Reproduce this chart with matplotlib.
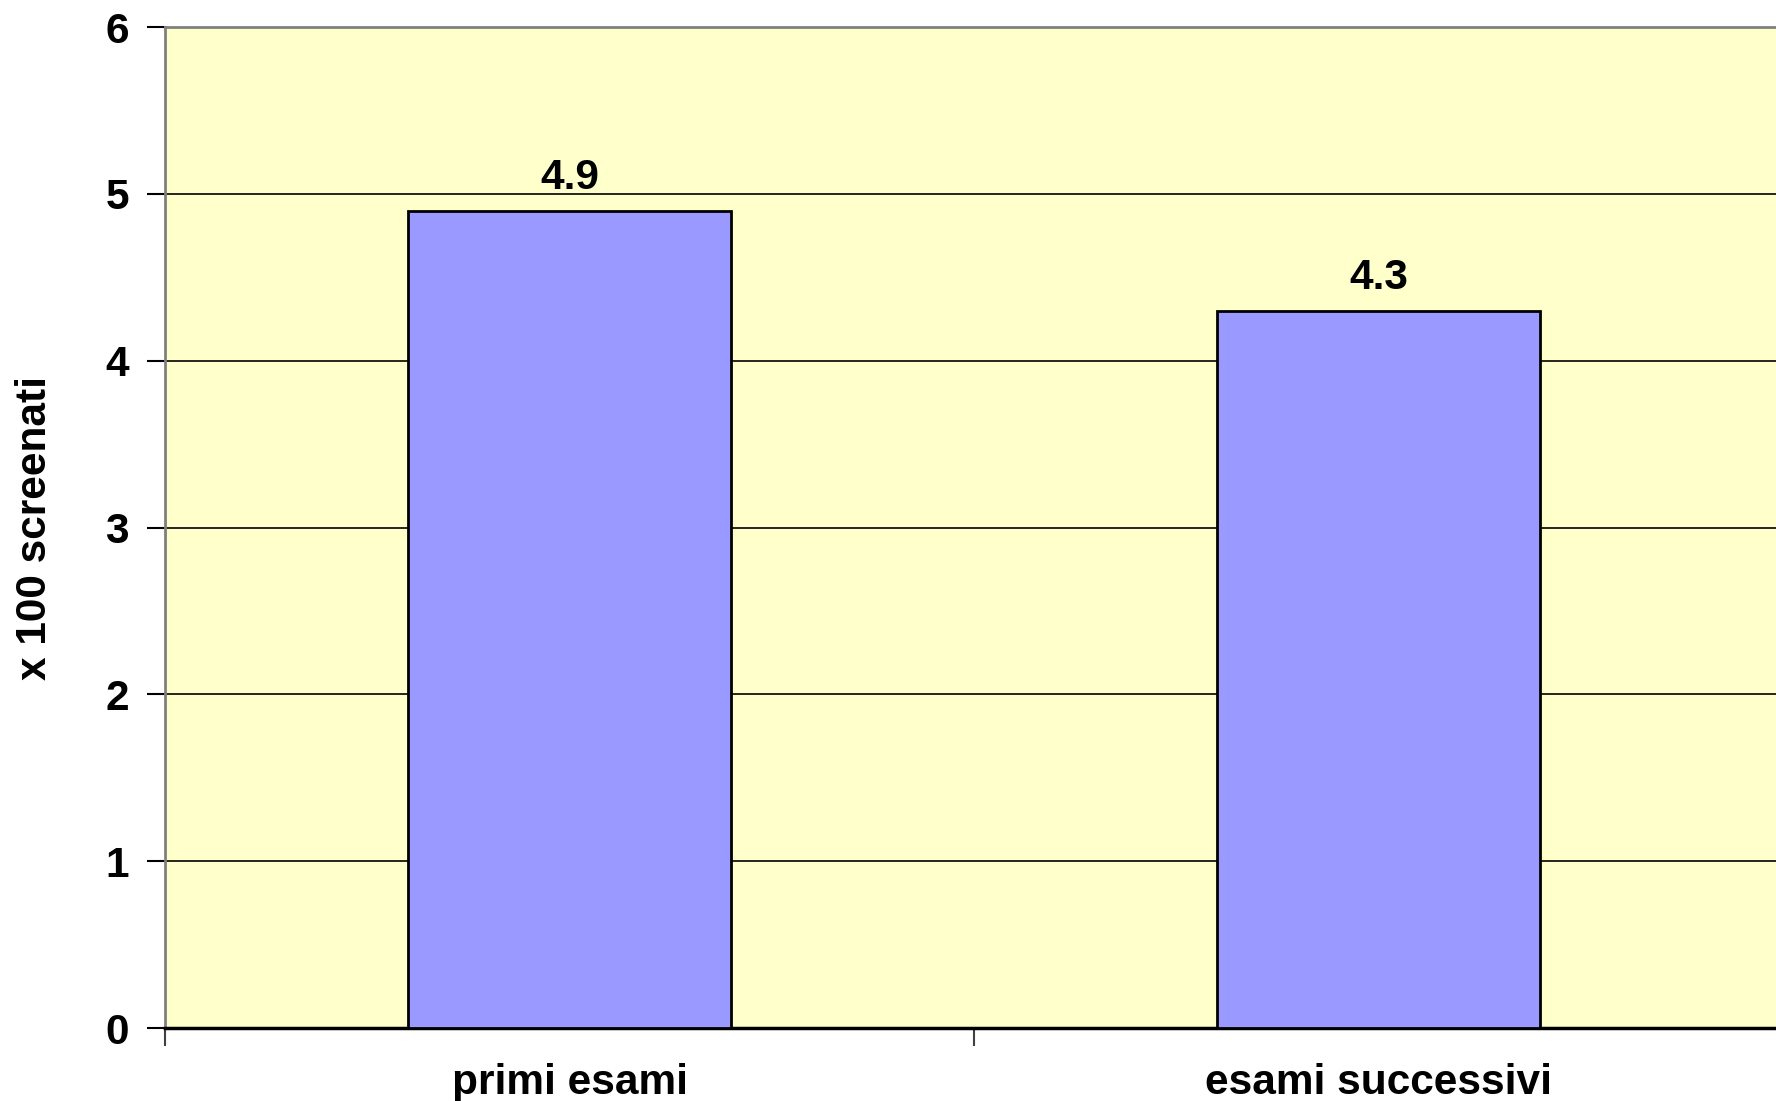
import matplotlib.pyplot as plt
import numpy as np

categories = ["primi esami", "esami successivi"]
values = [4.9, 4.3]
yticks = [0, 1, 2, 3, 4, 5, 6]

plt.rcParams['font.family'] = ['Liberation Sans', 'DejaVu Sans']
plt.rcParams['font.weight'] = 'bold'
FS = 30.5

fig = plt.figure(figsize=(17.76, 11.01), dpi=100)
ax = fig.add_axes([165 / 1776, 1 - 1028 / 1101, 1618 / 1776, 1001 / 1101])
ax.set_facecolor('#FFFFCC')

x = np.arange(len(categories))
bars = ax.bar(x, values, width=0.4, color='#9999FF', edgecolor='black', linewidth=2, zorder=3)

for b, v in zip(bars, values):
    ax.annotate(f"{v:.1f}", (b.get_x() + b.get_width() / 2, v), xytext=(0, 9),
                textcoords='offset points', ha='center', va='bottom',
                fontsize=FS, fontweight='bold')

ax.set_xlim(-0.5, len(categories) - 0.5)
ax.set_ylim(0, 6)
ax.set_yticks(yticks)
ax.set_yticklabels([str(t) for t in yticks], fontsize=FS, fontweight='bold')
ax.yaxis.grid(True, color='black', linewidth=1.2, zorder=1)
ax.set_axisbelow(True)

# category labels sit between boundary ticks
ax.set_xticks(x)
ax.set_xticklabels(categories, fontsize=FS, fontweight='bold')
ax.tick_params(axis='x', length=0, pad=25)
ax.set_xticks(np.arange(-0.5, len(categories)), minor=True)
ax.tick_params(axis='x', which='minor', length=13, width=1.5, color='#404040')
ax.tick_params(axis='y', length=13, width=1.5, pad=13)

ax.set_ylabel("x 100 screenati", fontsize=FS, fontweight='bold', labelpad=36)

ax.spines['top'].set_color('#808080')
ax.spines['top'].set_linewidth(2)
ax.spines['left'].set_color('#808080')
ax.spines['left'].set_linewidth(2)
ax.spines['bottom'].set_color('black')
ax.spines['bottom'].set_linewidth(2.5)
ax.spines['right'].set_visible(False)

fig.savefig("out.png", dpi=100)
